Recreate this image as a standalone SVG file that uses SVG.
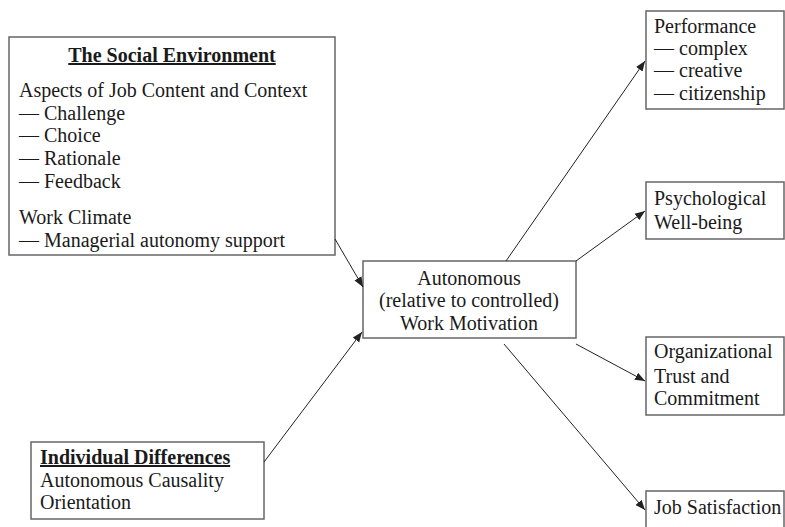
<svg xmlns="http://www.w3.org/2000/svg" width="785" height="527" viewBox="0 0 785 527">
<defs>
<style>
.box{fill:#fff;stroke:#666;stroke-width:1.5}
.t{font-family:"Liberation Serif","Times New Roman",serif;font-size:20px;fill:#1a1a1a}
.b{font-weight:bold;text-decoration:underline}
.c{text-anchor:middle}
.ln{stroke:#222;stroke-width:1;fill:none}
</style>
<marker id="ah" viewBox="0 0 10 10" refX="10" refY="5" markerWidth="10" markerHeight="10" markerUnits="userSpaceOnUse" orient="auto">
<path d="M0,1 L10,5 L0,9 Z" fill="#222"/>
</marker>
</defs>
<rect width="785" height="527" fill="#fff"/>
<g id="social">
<rect class="box" x="9" y="37" width="326" height="218"/>
<text class="t b c" x="172" y="62">The Social Environment</text>
<text class="t" x="19" y="97">Aspects of Job Content and Context</text>
<text class="t" x="19" y="120">— Challenge</text>
<text class="t" x="19" y="142">— Choice</text>
<text class="t" x="19" y="165">— Rationale</text>
<text class="t" x="19" y="188">— Feedback</text>
<text class="t" x="19" y="224">Work Climate</text>
<text class="t" x="19" y="247">— Managerial autonomy support</text>
</g>
<g id="individual">
<rect class="box" x="31" y="442" width="233" height="77"/>
<text class="t b" x="40" y="464">Individual Differences</text>
<text class="t" x="40" y="487">Autonomous Causality</text>
<text class="t" x="40" y="509">Orientation</text>
</g>
<g id="motivation">
<rect class="box" x="363" y="261" width="213" height="77"/>
<text class="t c" x="469" y="285">Autonomous</text>
<text class="t c" x="469" y="307">(relative to controlled)</text>
<text class="t c" x="469" y="330">Work Motivation</text>
</g>
<g id="performance">
<rect class="box" x="646" y="11" width="138" height="98"/>
<text class="t" x="654" y="33">Performance</text>
<text class="t" x="654" y="55">— complex</text>
<text class="t" x="654" y="77">— creative</text>
<text class="t" x="654" y="100">— citizenship</text>
</g>
<g id="wellbeing">
<rect class="box" x="646" y="182" width="138" height="57"/>
<text class="t" x="654" y="205">Psychological</text>
<text class="t" x="654" y="229">Well-being</text>
</g>
<g id="trust">
<rect class="box" x="646" y="337" width="138" height="78"/>
<text class="t" x="654" y="358">Organizational</text>
<text class="t" x="654" y="383">Trust and</text>
<text class="t" x="654" y="405">Commitment</text>
</g>
<g id="satisfaction">
<rect class="box" x="646" y="491" width="138" height="40"/>
<text class="t" x="654" y="514">Job Satisfaction</text>
</g>
<g id="connectors">
<line class="ln" x1="335" y1="239" x2="363" y2="287" marker-end="url(#ah)"/>
<line class="ln" x1="264" y1="462" x2="362" y2="332" marker-end="url(#ah)"/>
<line class="ln" x1="506" y1="261" x2="645" y2="61" marker-end="url(#ah)"/>
<line class="ln" x1="576" y1="261" x2="645" y2="211" marker-end="url(#ah)"/>
<line class="ln" x1="576" y1="344" x2="645" y2="381" marker-end="url(#ah)"/>
<line class="ln" x1="504" y1="344" x2="645" y2="510" marker-end="url(#ah)"/>
</g>
</svg>
